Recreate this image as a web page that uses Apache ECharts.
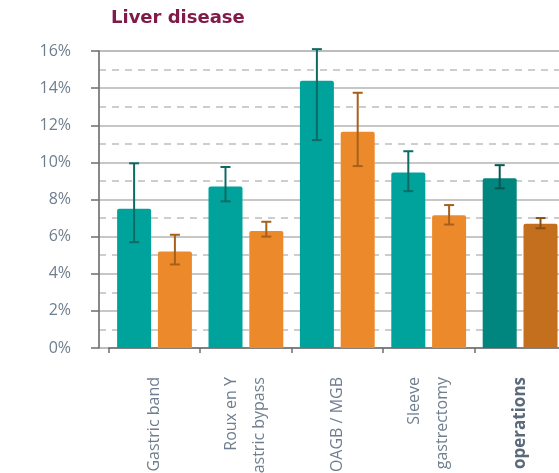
<!DOCTYPE html>
<html>
<head>
<meta charset="utf-8">
<script src="https://cdn.jsdelivr.net/npm/echarts@6/dist/echarts.min.js"></script>
<style>
  html, body { margin: 0; padding: 0; background: #fff; }
  #chart { width: 559px; height: 473px; }
</style>
</head>
<body>
<div id="chart"></div>
<script>
// Procedure categories (x axis)
const categories = ['Gastric band', 'Roux en Y\ngastric bypass', 'OAGB / MGB', 'Sleeve\ngastrectomy', 'All operations'];

// First series (teal): estimate and confidence interval, in %
const valuesA = [7.5, 8.7, 14.4, 9.45, 9.15];
const lowA    = [5.7, 7.9, 11.2, 8.45, 8.6];
const highA   = [9.95, 9.75, 16.1, 10.6, 9.85];

// Second series (orange): estimate and confidence interval, in %
const valuesB = [5.2, 6.3, 11.65, 7.15, 6.7];
const lowB    = [4.5, 6.0, 9.8, 6.65, 6.45];
const highB   = [6.1, 6.8, 13.75, 7.7, 7.0];

// Value axis ticks
const yTicks = [0, 2, 4, 6, 8, 10, 12, 14, 16];

const tealColor = '#00a39b', tealDark = '#00867e';
const orangeColor = '#ec8a2b', orangeDark = '#c46f1e';
const tealErr = '#0d6b64', tealErrDark = '#0a5650';
const orangeErr = '#a75f1c', orangeErrDark = '#8a4e17';

const BAR_W = 34;
const HALF_STEP = 20.4; // distance from category centre to each bar centre
const lastIdx = categories.length - 1;

function barData(vals, col, colLast) {
  return vals.map((v, i) => ({
    value: v,
    itemStyle: { color: i === lastIdx ? colLast : col }
  }));
}

function errData(low, high) {
  return low.map((l, i) => [i, l, high[i]]);
}

function errSeries(name, low, high, side, col, colLast) {
  return {
    name: name,
    type: 'custom',
    xAxisIndex: 1,
    yAxisIndex: 1,
    clip: false,
    z: 5,
    data: errData(low, high),
    renderItem: function (params, api) {
      const i = api.value(0);
      const pLow = api.coord([i, api.value(1)]);
      const pHigh = api.coord([i, api.value(2)]);
      const x = pLow[0] + side * HALF_STEP;
      const cap = 5;
      const stroke = i === lastIdx ? colLast : col;
      const style = { stroke: stroke, lineWidth: 2, fill: null };
      return {
        type: 'group',
        children: [
          { type: 'line', shape: { x1: x, y1: pLow[1], x2: x, y2: pHigh[1] }, style: style },
          { type: 'line', shape: { x1: x - cap, y1: pHigh[1], x2: x + cap, y2: pHigh[1] }, style: style },
          { type: 'line', shape: { x1: x - cap, y1: pLow[1], x2: x + cap, y2: pLow[1] }, style: style }
        ]
      };
    }
  };
}

const chart = echarts.init(document.getElementById('chart'), null, { renderer: 'canvas' });

const labelFont = '"Open Sans", "Liberation Sans", sans-serif';

chart.setOption({
  animation: false,
  title: {
    text: 'Liver disease',
    left: 106,
    top: 4,
    textStyle: {
      color: '#801a48',
      fontSize: 18,
      fontWeight: 'bold',
      fontFamily: '"DejaVu Sans", sans-serif'
    }
  },
  grid: [
    // frame and gridlines
    { left: 99, top: 51, height: 297, width: 500, containLabel: false, outerBoundsMode: 'none',
      show: true, borderColor: '#c9c9c9', borderWidth: 1.5, backgroundColor: 'transparent' },
    // bars
    { left: 108.8, top: 51, height: 297, width: 457, containLabel: false, outerBoundsMode: 'none' }
  ],
  xAxis: [
    { gridIndex: 0, type: 'value', min: 0, max: 1, show: false },
    {
      gridIndex: 1,
      type: 'category',
      data: categories,
      offset: 10,
      axisLine: { show: true, lineStyle: { color: '#6e6e6e', width: 1.5 } },
      axisTick: { show: true, inside: false, length: 5, alignWithLabel: false, lineStyle: { color: '#6e6e6e', width: 1.5 } },
      axisLabel: {
        rotate: 90,
        margin: 19,
        interval: 0,
        color: '#6f7e8e',
        fontSize: 16,
        lineHeight: 28,
        fontFamily: labelFont,
        formatter: function (v, i) {
          return i === lastIdx ? '{b|' + v + '}' : v;
        },
        rich: {
          b: { fontWeight: 'bold', color: '#5a6a7a', fontSize: 17, fontFamily: labelFont }
        }
      }
    }
  ],
  yAxis: [
    {
      gridIndex: 0,
      type: 'value',
      min: yTicks[0],
      max: yTicks[yTicks.length - 1],
      interval: 2,
      offset: 11,
      axisLine: { show: true, lineStyle: { color: '#6e6e6e', width: 1.5 } },
      axisTick: { show: true, length: 8, lineStyle: { color: '#6e6e6e', width: 1.5 } },
      axisLabel: {
        margin: 17,
        color: '#6f7e8e',
        fontSize: 16,
        fontFamily: labelFont,
        formatter: function (v) { return yTicks.indexOf(v) >= 0 ? v + '%' : ''; }
      },
      splitLine: { show: true, lineStyle: { color: '#b5b5b5', width: 1.5 } },
      minorTick: { show: false, splitNumber: 2 },
      minorSplitLine: { show: true, lineStyle: { color: '#bdbdbd', width: 1.5, type: [7, 6] } }
    },
    { gridIndex: 1, type: 'value', min: 0, max: 16, show: false, splitLine: { show: false } }
  ],
  series: [
    {
      name: 'Series 1',
      type: 'bar',
      xAxisIndex: 1,
      yAxisIndex: 1,
      barWidth: BAR_W,
      barGap: '20%',
      z: 3,
      itemStyle: { borderRadius: [2, 2, 0, 0] },
      data: barData(valuesA, tealColor, tealDark)
    },
    {
      name: 'Series 2',
      type: 'bar',
      xAxisIndex: 1,
      yAxisIndex: 1,
      barWidth: BAR_W,
      barGap: '20%',
      z: 3,
      itemStyle: { borderRadius: [2, 2, 0, 0] },
      data: barData(valuesB, orangeColor, orangeDark)
    },
    errSeries('Series 1 interval', lowA, highA, -1, tealErr, tealErrDark),
    errSeries('Series 2 interval', lowB, highB, 1, orangeErr, orangeErrDark)
  ]
});
</script>
</body>
</html>
